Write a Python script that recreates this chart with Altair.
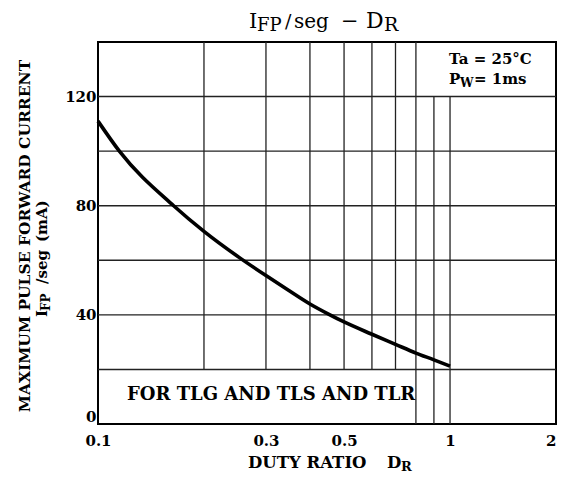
import altair as alt
import pandas as pd

# ---- data ----
duty = [0.1, 0.115, 0.164, 0.2, 0.254, 0.3, 0.345, 0.4, 0.453, 0.5, 0.6, 0.7, 0.8, 0.9, 1.0]
current = [111, 100, 80, 70.6, 60.7, 54.4, 49.3, 44.0, 40.2, 37.4, 32.9, 29.2, 26.0, 23.5, 21.2]

vgrid_x = [0.2, 0.3, 0.4, 0.5, 0.6, 0.7, 0.8, 0.9, 1.0]
vgrid_lo = [20, 20, 20, 20, 20, 20, 0, 0, 0]
vgrid_hi = [140, 140, 140, 140, 140, 140, 140, 120, 120]
hgrid_y = [20, 40, 60, 80, 100, 120]

x_ticks = [0.1, 0.3, 0.5, 1, 2]
y_ticks = [0, 40, 80, 120]

FONT = "DejaVu Serif"
W, H = 458, 382

xscale = alt.Scale(type="log", domain=[0.1, 2], nice=False)
yscale = alt.Scale(domain=[0, 140], nice=False, zero=False)

curve_df = pd.DataFrame({"duty": duty, "current": current})
vg_df = pd.DataFrame({"x": vgrid_x, "lo": vgrid_lo, "hi": vgrid_hi})
hg_df = pd.DataFrame({"y": hgrid_y, "x0": [0.1] * len(hgrid_y), "x1": [2] * len(hgrid_y)})

xaxis = alt.Axis(values=x_ticks, labelExpr="datum.value + ''", title=None, grid=False,
                 ticks=False, domain=False, labelFont=FONT, labelFontSize=15,
                 labelFontWeight="bold", labelColor="black", labelPadding=9,
                 labelFlush=False, labelBaseline="top",
                 labelAlign={"condition": {"test": "datum.value >= 2", "value": "right"},
                             "value": "center"})
yaxis = alt.Axis(values=y_ticks, title=None, grid=False, ticks=False, domain=False,
                 labelFont=FONT, labelFontSize=15, labelFontWeight="bold",
                 labelColor="black", labelPadding=2, labelFlush=True)

vgrid = alt.Chart(vg_df).mark_rule(color="#222", strokeWidth=1.3).encode(
    x=alt.X("x:Q", scale=xscale, axis=xaxis),
    y=alt.Y("lo:Q", scale=yscale, axis=yaxis),
    y2="hi:Q",
)
hgrid = alt.Chart(hg_df).mark_rule(color="#222", strokeWidth=1.4).encode(
    y=alt.Y("y:Q", scale=yscale),
    x=alt.X("x0:Q", scale=xscale),
    x2="x1:Q",
)
curve = alt.Chart(curve_df).mark_line(color="black", strokeWidth=3.6, interpolate="monotone").encode(
    x=alt.X("duty:Q", scale=xscale),
    y=alt.Y("current:Q", scale=yscale),
)

one = pd.DataFrame({"k": [0]})


def txt(s, x, y, size, angle=0, align="left", baseline="alphabetic", weight="bold"):
    return alt.Chart(one).mark_text(
        text=s, font=FONT, fontSize=size, fontWeight=weight, angle=angle, align=align,
        baseline=baseline, color="black"
    ).encode(x=alt.value(x), y=alt.value(y))


texts = [
    # title
    txt("I", 151, -14, 21, weight="normal"),
    txt("FP", 159, -11, 18, weight="normal"),
    txt("/", 187, -14, 19, weight="normal"),
    txt("seg", 196, -14, 20, weight="normal"),
    txt("\u2212", 243, -14, 21, weight="normal"),
    txt("D", 268, -14, 22, weight="normal"),
    txt("R", 286, -11, 19, weight="normal"),
    # conditions box
    txt("Ta = 25\u00b0C", 351, 22, 15),
    txt("P", 351, 42, 15),
    txt("W", 362, 45, 12),
    txt("= 1ms", 376, 42, 15),
    # note
    txt("FOR TLG AND TLS AND TLR", 29, 358, 18),
    # x title
    txt("DUTY RATIO", 150, 426, 16.5),
    txt("D", 289, 426, 16.5),
    txt("R", 303, 428.5, 13),
    # y title
    txt("MAXIMUM PULSE FORWARD CURRENT", -68, 194, 15.5, angle=270, align="center"),
    txt("I", -51, 275, 15, angle=270),
    txt("FP", -48, 269, 12, angle=270),
    txt("/seg", -51, 242, 15, angle=270),
    txt("(mA)", -51, 200, 15, angle=270),
]

chart = alt.layer(vgrid, hgrid, curve, *texts).properties(
    width=W, height=H,
    autosize=alt.AutoSizeParams(type="none"),
    padding={"left": 90, "top": 34, "right": 1, "bottom": 48},
).configure_view(stroke="black", strokeWidth=2)

chart.save("out.html", embed_options={"renderer": "svg", "actions": False})
